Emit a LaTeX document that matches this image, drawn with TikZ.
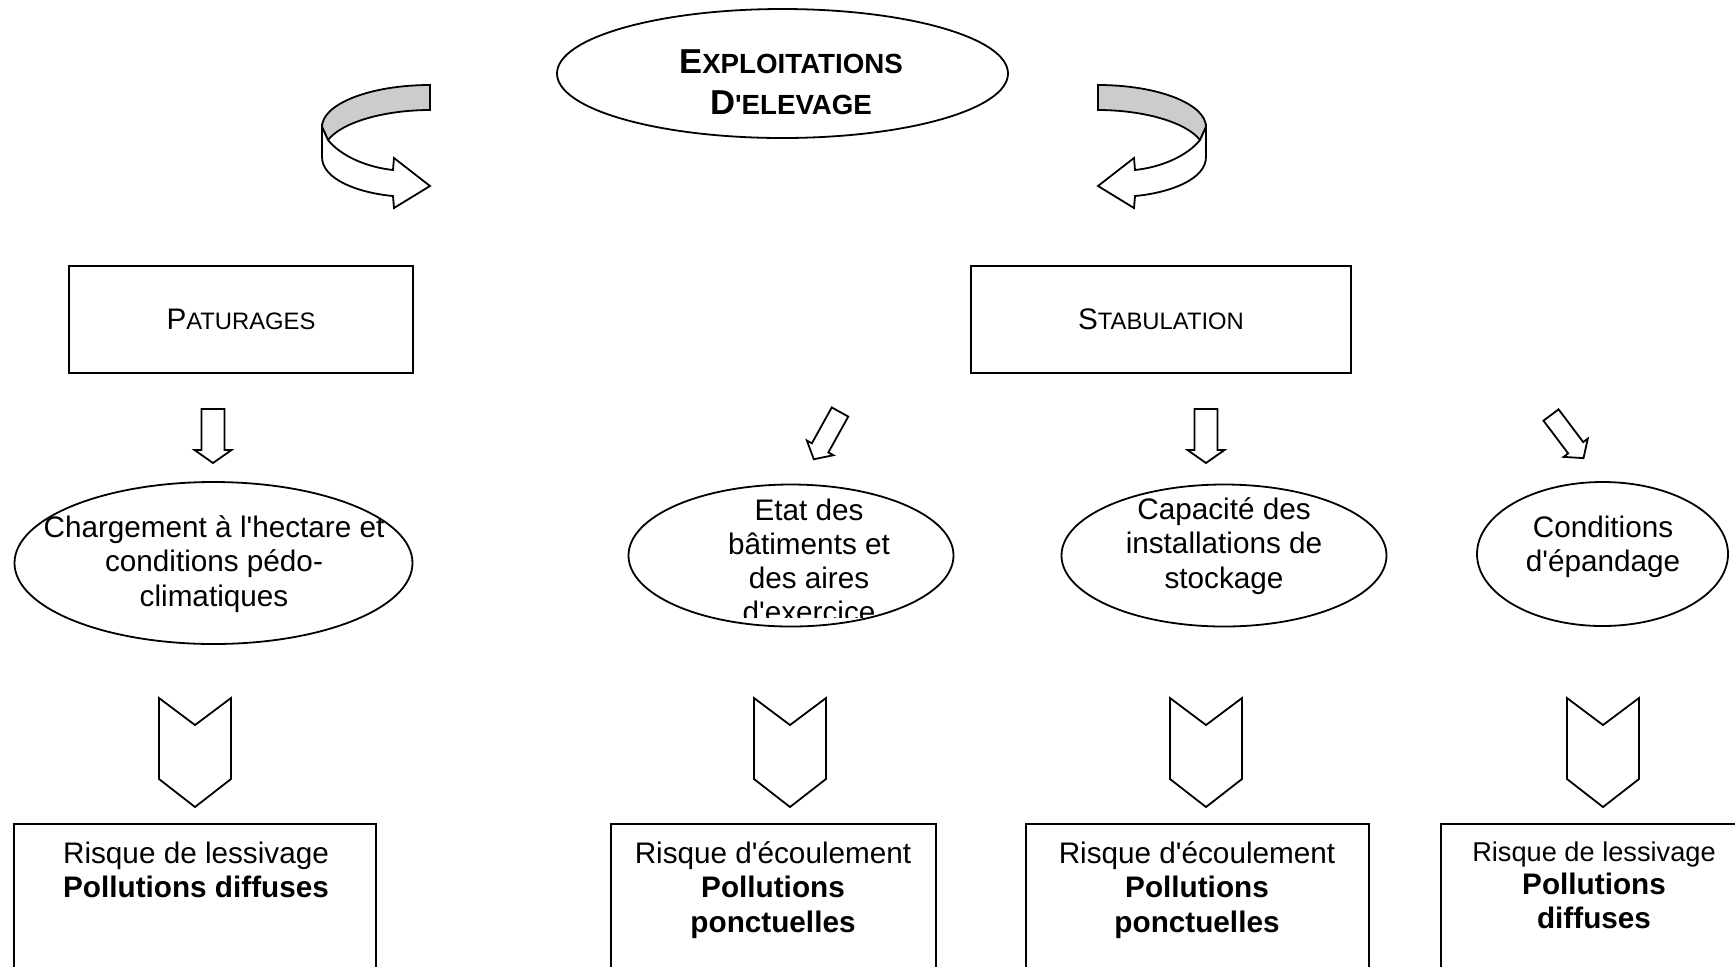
\documentclass[tikz,border=0pt]{standalone}
\usepackage{fontspec}
\setmainfont{Liberation Sans}
\usetikzlibrary{shapes.geometric}
\newcommand{\q}{\textquotesingle}
\newcommand{\smc}[2]{{\fontsize{14.85}{17.1}\selectfont #1}{\fontsize{11.9}{17.1}\selectfont #2}}
\newcommand{\bsmc}[2]{{\fontsize{17.3}{20.5}\selectfont\bfseries #1}{\fontsize{13.85}{20.5}\selectfont\bfseries #2}}
\tikzset{
  blockarrow/.pic={\draw[fill=white] (-11.5,0) -- (11.5,0) -- (11.5,41) -- (18.5,41) -- (0,54) -- (-18.5,41) -- (-11.5,41) -- cycle;},
  chevron/.pic={\draw[fill=white] (-36,0) -- (0,27) -- (36,0) -- (36,81) -- (0,109) -- (-36,81) -- cycle;},
  uturn/.pic={
    \draw[fill=gray!40] (0,0) -- (0,25) .. controls (-45,25) and (-88,37) .. (-102,55) -- (-108,42) .. controls (-108,19) and (-60,0) .. (0,0) -- cycle;
    \draw[fill=white] (-108,42) -- (-102,55) .. controls (-90,70) and (-65,82) .. (-37,85) -- (-36,73) -- (0,101) -- (-36,123) -- (-37,111) .. controls (-70,108) and (-108,95) .. (-108,72) -- cycle;}
}
\begin{document}
\begin{tikzpicture}[x=0.5pt,y=-0.5pt,line width=0.9pt,
  txt/.style={align=center,inner sep=0pt,font=\fontsize{14.85}{17.1}\selectfont},
  oval/.style={draw,ellipse,inner sep=0pt},
  box/.style={draw,rectangle,inner sep=0pt}]
\useasboundingbox (0,0) rectangle (1735,966);
%\draw[step=100,gray!30](0,0) grid (1735,966);
\node[oval,minimum width=225.5pt,minimum height=64.5pt] (expl) at (782.5,73.5) {};
\node[txt,font=\fontsize{17.3}{20.5}\selectfont] (expltxt) at (791,82) {\bsmc{E}{XPLOITATIONS}\\\bsmc{D}{\q ELEVAGE}};
\pic at (430,85) {uturn};
\pic[xscale=-1] at (1098,85) {uturn};
% niveau 1
\node[box,minimum width=172pt,minimum height=53.5pt] (patur) at (241,319.5) {\smc{P}{ATURAGES}};
\node[box,minimum width=190pt,minimum height=53.5pt] (stab) at (1161,319.5) {\smc{S}{TABULATION}};
\pic at (213,409) {blockarrow};
\pic[rotate=-29,xscale=0.82] at (840,412) {blockarrow};
\pic at (1206,409) {blockarrow};
\pic[rotate=37,xscale=0.82] at (1551,415) {blockarrow};
% niveau 2
\node[oval,minimum width=199pt,minimum height=81pt] (charg) at (213.5,563) {};
\node[txt] (chargtxt) at (214,564) {Chargement à l\q hectare et\\conditions pédo-\\climatiques};
\node[oval,minimum width=162.5pt,minimum height=71pt] (etat) at (791,555.5) {};
\begin{scope}
\clip (600,470) rectangle (1000,617);
\node[txt] (etattxt) at (809,561) {Etat des\\bâtiments et\\des aires\\d\q exercice};
\end{scope}
\node[oval,minimum width=162.5pt,minimum height=71pt] (capa) at (1224,555.5) {};
\node[txt] (capatxt) at (1224,546) {Capacité des\\installations de\\stockage};
\node[oval,minimum width=125.5pt,minimum height=72pt] (cond) at (1602.5,554) {};
\node[txt] (condtxt) at (1603,547) {Conditions\\d\q épandage};
\foreach \x in {195,790,1206,1603} \pic at (\x,698) {chevron};
% niveau 3
\node[box,minimum width=181pt,minimum height=100pt] (risk1) at (195,924) {};
\node[box,minimum width=162.5pt,minimum height=100pt] (risk2) at (773.5,924) {};
\node[box,minimum width=171.5pt,minimum height=100pt] (risk3) at (1197.5,924) {};
\node[box,minimum width=159.5pt,minimum height=100pt] (risk4) at (1600.5,924) {};
\node[txt] (risk1txt) at (196,870) {Risque de lessivage\\\textbf{Pollutions diffuses}};
\node[txt] (risk2txt) at (773,890) {Risque d\q écoulement\\\textbf{Pollutions}\\\textbf{ponctuelles}};
\node[txt] (risk3txt) at (1197,890) {Risque d\q écoulement\\\textbf{Pollutions}\\\textbf{ponctuelles}};
\node[txt,font=\fontsize{14.85}{16.8}\selectfont] (risk4txt) at (1594,885) {{\fontsize{13.6}{16.8}\selectfont Risque de lessivage}\\\textbf{Pollutions}\\\textbf{diffuses}};
\end{tikzpicture}
\end{document}
